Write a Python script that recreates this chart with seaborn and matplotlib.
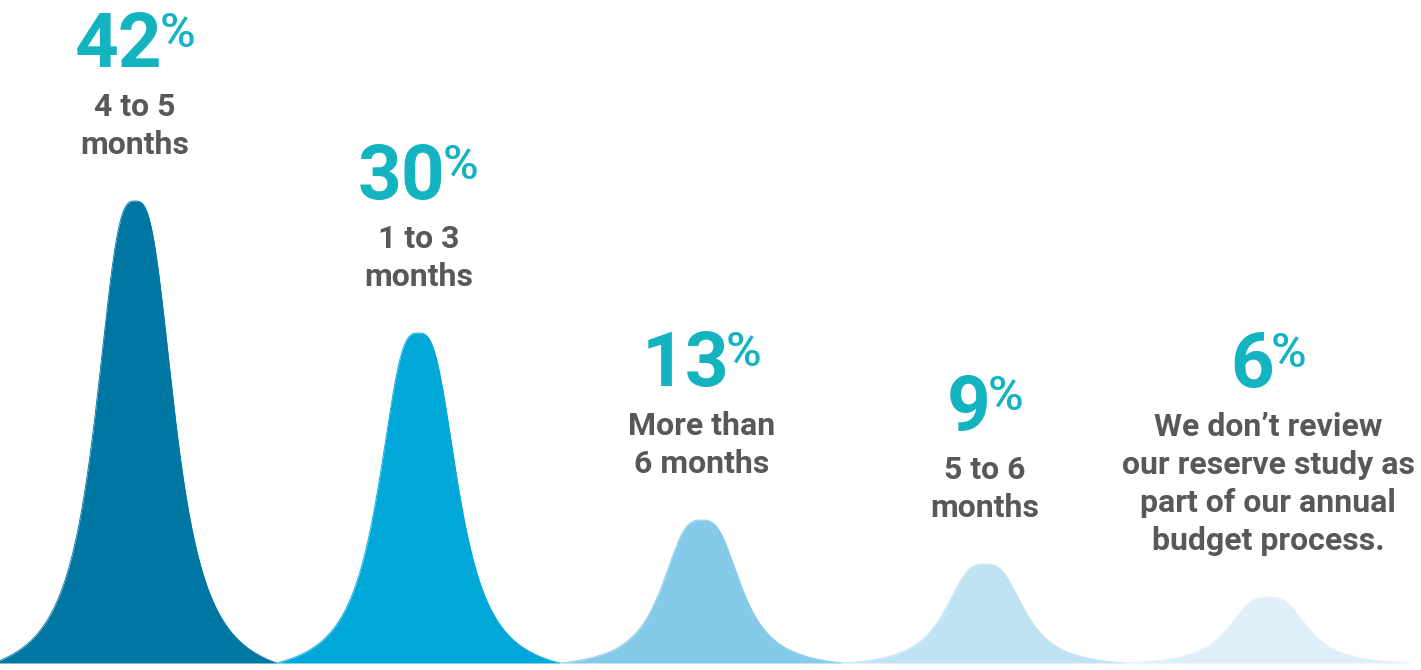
import numpy as np
import pandas as pd
import matplotlib
matplotlib.use("Agg")
import matplotlib.pyplot as plt
import seaborn as sns

# Survey answers: when the reserve study is reviewed ahead of the budget
shares = [42, 30, 13, 9, 6]
answers = [
    ["4 to 5", "months"],
    ["1 to 3", "months"],
    ["More than", "6 months"],
    ["5 to 6", "months"],
    ["We don\u2019t review", "our reserve study as", "part of our annual", "budget process."],
]
peak_colors = ["#0076A3", "#00A8D9", "#86CAE9", "#C0E3F4", "#DEEFF9"]
number_color = "#14B3C0"
label_color = "#58585B"

W, H, DPI = 1421, 670, 100
sns.set_theme(style="white")
plt.rcParams["font.family"] = ["Roboto", "DejaVu Sans"]

fig = plt.figure(figsize=(W / DPI, H / DPI), dpi=DPI)
ax = fig.add_axes([0, 0, 1, 1])

# pixel geometry of the layout
step_px = 283.25      # distance between peak centres
first_px = 135.0      # centre of the first peak
base_px = 663.0       # baseline (from top)
unit_px = 11.0        # pixels per percentage point


def xd(px):
    return (px - first_px) / step_px


def yd(py):
    return (base_px - py) / unit_px


def profile(u, a=0.1375, q=3.0, m=0.8, half=0.5):
    """Rounded bell with long tails, pinned to zero at +-half."""
    f = (1 + (np.abs(u) / a) ** q) ** -m
    e = (1 + (half / a) ** q) ** -m
    return np.clip((f - e) / (1 - e), 0, None)


u = np.linspace(-0.5, 0.5, 1201)
frames = []
for i, v in enumerate(shares):
    frames.append(pd.DataFrame({"x": i + u, "y": v * profile(u), "answer": i}))
curves = pd.concat(frames, ignore_index=True)

for i, grp in curves.groupby("answer"):
    ax.fill_between(grp["x"], 0, grp["y"], color=peak_colors[i], linewidth=0)
sns.lineplot(data=curves, x="x", y="y", hue="answer", palette=peak_colors,
             estimator=None, sort=False, legend=False, linewidth=0.6, ax=ax)
ax.set_xlim(-first_px / step_px, (W - first_px) / step_px)
ax.set_ylim(-(H - base_px) / unit_px, base_px / unit_px)
ax.axis("off")

num_size, pct_size, lab_size = 55, 35, 23
line_gap_px = 38
fig.canvas.draw()
renderer = fig.canvas.get_renderer()

for i, (v, lines) in enumerate(zip(shares, answers)):
    cx_px = first_px + i * step_px
    peak_px = base_px - v * unit_px
    last_base = peak_px - 47
    n = len(lines)
    for k, line in enumerate(lines):
        by = last_base - (n - 1 - k) * line_gap_px
        ax.text(xd(cx_px), yd(by), line, ha="center", va="baseline",
                fontsize=lab_size, fontweight="bold", color=label_color)
    first_base = last_base - (n - 1) * line_gap_px
    num_base = first_base - 49

    t_num = ax.text(0, yd(num_base), f"{v}", ha="left", va="baseline",
                    fontsize=num_size, fontweight="bold", color=number_color)
    t_pct = ax.text(0, yd(num_base - 20), "%", ha="left", va="baseline",
                    fontsize=pct_size, fontweight="medium", color=number_color)
    wn = t_num.get_window_extent(renderer).width
    wp = t_pct.get_window_extent(renderer).width
    gap = -3
    left = cx_px - (wn + gap + wp) / 2
    t_num.set_x(xd(left))
    t_pct.set_x(xd(left + wn + gap))

fig.savefig("out.png", dpi=DPI, facecolor="white")
